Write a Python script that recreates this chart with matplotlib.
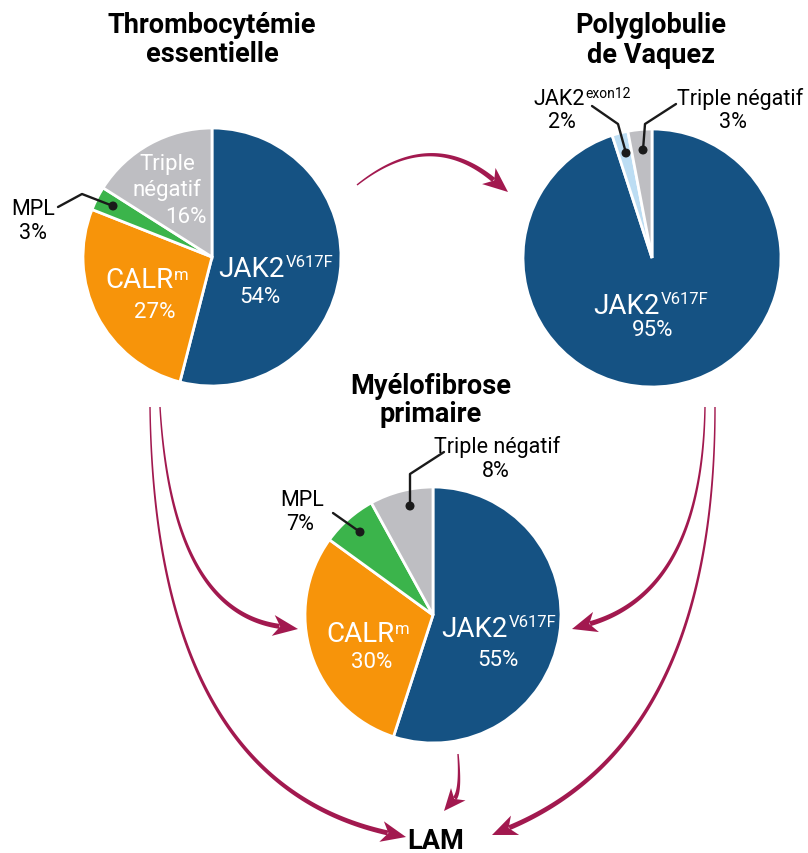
import numpy as np
import matplotlib
matplotlib.use("Agg")
import matplotlib.pyplot as plt
from matplotlib.patches import Polygon, Circle

plt.rcParams['font.family'] = ['Roboto', 'DejaVu Sans']

# ---------------- data ----------------
te_labels = ["JAK2 V617F", "CALRm", "MPL", "Triple négatif"]
te_values = [54, 27, 3, 16]
pv_labels = ["JAK2 V617F", "JAK2 exon12", "Triple négatif"]
pv_values = [95, 2, 3]
pmf_labels = ["JAK2 V617F", "CALRm", "MPL", "Triple négatif"]
pmf_values = [55, 30, 7, 8]

BLUE = "#155283"
ORANGE = "#F7940A"
GREEN = "#3BB44B"
GRAY = "#BEBEC2"
LBLUE = "#BCDDF3"
ARROW = "#A2194F"

W, H = 808, 854
fig = plt.figure(figsize=(W / 100, H / 100), dpi=100)
ax = fig.add_axes([0, 0, 1, 1])
renderer = fig.canvas.get_renderer()


def Y(py):
    return H - py


def pie(values, colors, cx, cy, r):
    ax.pie(values, colors=colors, startangle=90, counterclock=False,
           center=(cx, Y(cy)), radius=r,
           wedgeprops=dict(edgecolor="white", linewidth=2))


pie(te_values, [BLUE, ORANGE, GREEN, GRAY], 212, 258, 129)
pie(pv_values, [BLUE, LBLUE, GRAY], 652, 259, 129)
pie(pmf_values, [BLUE, ORANGE, GREEN, GRAY], 433, 616, 128)

ax.set_xlim(0, W)
ax.set_ylim(0, H)
ax.set_aspect("auto")
ax.axis("off")

CAP = 0.711 * 100 / 72  # cap height in px per pt


def txt(cx, capc, s, size, color="black", weight="normal"):
    """text centred horizontally at cx with cap-height centre at capc (px, top-down)"""
    base = capc + CAP * size / 2
    ax.text(cx, Y(base), s, fontsize=size, color=color, weight=weight,
            ha="center", va="baseline")


def suptxt(cx, capc, main, sup, size, supsize, raise_px, color="black"):
    base = capc + CAP * size / 2
    t1 = ax.text(0, 0, main, fontsize=size, color=color, ha="left", va="baseline")
    t2 = ax.text(0, 0, sup, fontsize=supsize, color=color, ha="left", va="baseline")
    w1 = t1.get_window_extent(renderer).width
    w2 = t2.get_window_extent(renderer).width
    gap = 1.0
    x0 = cx - (w1 + gap + w2) / 2
    t1.set_position((x0, Y(base)))
    t2.set_position((x0 + w1 + gap, Y(base - raise_px)))


# titles
txt(212, 23, "Thrombocytémie", 19.5, weight="bold")
txt(212, 52, "essentielle", 19.5, weight="bold")
txt(651, 23, "Polyglobulie", 19.5, weight="bold")
txt(651, 53, "de Vaquez", 19.5, weight="bold")
txt(431, 384, "Myélofibrose", 19.5, weight="bold")
txt(431, 412, "primaire", 19.5, weight="bold")
txt(436, 839, "LAM", 19.5, weight="bold")

# TE labels
suptxt(276, 267, "JAK2", "V617F", 20, 12, 10, "white")
txt(260, 295, f"{te_values[0]}%", 16, "white")
suptxt(147, 278, "CALR", "m", 20, 12, 8, "white")
txt(155, 310, f"{te_values[1]}%", 16, "white")
txt(167, 162, "Triple", 16, "white")
txt(167, 188, "négatif", 16, "white")
txt(186, 215, f"{te_values[3]}%", 16, "white")
txt(33, 207, "MPL", 15.5)
txt(33, 231, f"{te_values[2]}%", 15.5)

# PV labels
suptxt(651, 304, "JAK2", "V617F", 20, 12, 10, "white")
txt(653, 328, f"{pv_values[0]}%", 16, "white")
suptxt(582, 97, "JAK2", "exon12", 15.5, 10, 7)
txt(562, 120, f"{pv_values[1]}%", 15.5)
txt(740, 97, "Triple négatif", 15.5)
txt(733, 120, f"{pv_values[2]}%", 15.5)

# PMF labels
suptxt(499, 627, "JAK2", "V617F", 20, 12, 10, "white")
txt(498, 658, f"{pmf_values[0]}%", 16, "white")
suptxt(368, 632, "CALR", "m", 20, 12, 8, "white")
txt(372, 660, f"{pmf_values[1]}%", 16, "white")
txt(497, 445, "Triple négatif", 15.5)
txt(496, 469, f"{pmf_values[3]}%", 15.5)
txt(302, 498, "MPL", 15.5)
txt(300, 522, f"{pmf_values[2]}%", 15.5)


def leader(pts):
    xs = [p[0] for p in pts]
    ys = [Y(p[1]) for p in pts]
    ax.plot(xs, ys, color="#1a1a1a", lw=1.7, solid_capstyle="round")
    ax.add_patch(Circle((xs[-1], ys[-1]), 3.8, color="#1a1a1a", zorder=5))


leader([(58, 208), (82, 195), (113, 207)])
leader([(592, 107), (618, 125), (626, 154)])
leader([(676, 105), (645, 125), (643, 151)])
leader([(444, 453), (410, 475), (410, 507)])
leader([(333, 514), (360, 533)])


def arrow(p0, c, p1, w0=1.4, w1=5.0, hl=25, hw=21):
    p0 = np.array([p0[0], Y(p0[1])], float)
    c = np.array([c[0], Y(c[1])], float)
    p1 = np.array([p1[0], Y(p1[1])], float)
    d = p1 - c
    d /= np.linalg.norm(d)
    base = p1 - d * hl * 0.75
    t = np.linspace(0, 1, 100)[:, None]
    pts = (1 - t) ** 2 * p0 + 2 * (1 - t) * t * c + t ** 2 * base
    der = 2 * (1 - t) * (c - p0) + 2 * t * (base - c)
    nrm = np.stack([-der[:, 1], der[:, 0]], axis=1)
    nrm /= np.linalg.norm(nrm, axis=1)[:, None]
    w = (w0 + (w1 - w0) * t) / 2
    left = pts + nrm * w
    right = pts - nrm * w
    poly = np.vstack([left, right[::-1]])
    ax.add_patch(Polygon(poly, closed=True, color=ARROW, lw=0, zorder=3))
    n = np.array([-d[1], d[0]])
    back = p1 - d * hl
    head = [p1, back + n * hw / 2, p1 - d * hl * 0.72, back - n * hw / 2]
    ax.add_patch(Polygon(head, closed=True, color=ARROW, lw=0, zorder=3))


arrow((357, 186), (430, 128), (508, 193))
arrow((160, 408), (172, 612), (298, 630))
arrow((150, 408), (155, 782), (406, 838))
arrow((705, 408), (702, 592), (572, 630))
arrow((715, 408), (715, 742), (492, 836))
arrow((458, 755), (461, 792), (444, 812), w1=4.5, hl=22, hw=19)

fig.savefig("out.png", dpi=100)
